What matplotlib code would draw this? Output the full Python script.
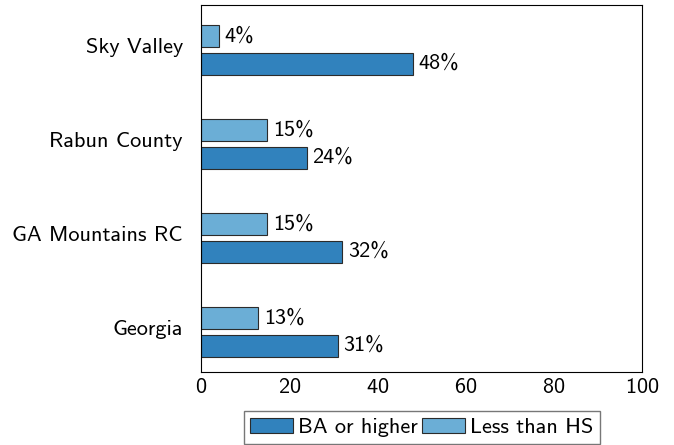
import matplotlib
matplotlib.use('Agg')
import matplotlib.pyplot as plt
import matplotlib.transforms as mtransforms
import numpy as np

plt.rcParams['font.family'] = ['cmss10', 'DejaVu Sans']
plt.rcParams['axes.formatter.use_mathtext'] = True
plt.rcParams['font.size'] = 16

places = ['Sky Valley', 'Rabun County', 'GA Mountains RC', 'Georgia']
ba_or_higher = [48, 24, 32, 31]
less_than_hs = [4, 15, 15, 13]

dark = '#3182bd'
light = '#6baed6'
edge = '#2b2b2b'

fig = plt.figure(figsize=(6.74, 4.45), dpi=100)
ax = fig.add_axes([0.2982, 0.164, 0.6543, 0.8248])

y = np.arange(len(places))
off = 0.144
h = 0.234
b1 = ax.barh(y + off, ba_or_higher, height=h, color=dark, edgecolor=edge, linewidth=0.8, label='BA or higher')
b2 = ax.barh(y - off, less_than_hs, height=h, color=light, edgecolor=edge, linewidth=0.8, label='Less than HS')
ax.bar_label(b1, labels=[f'{v}%' for v in ba_or_higher], padding=4)
ax.bar_label(b2, labels=[f'{v}%' for v in less_than_hs], padding=4)

ax.set_xlim(0, 100)
ax.set_ylim(3.426, -0.479)
ax.set_xticks([0, 20, 40, 60, 80, 100])
ax.set_yticks(y)
ax.set_yticklabels(places)
ax.tick_params(axis='y', length=0, pad=13)
ax.tick_params(axis='x', length=0, pad=4)
# nudge category labels up a little, like the original
shift = mtransforms.ScaledTranslation(0, 3 / 72, fig.dpi_scale_trans)
for lab in ax.get_yticklabels():
    lab.set_transform(lab.get_transform() + shift)
for s in ax.spines.values():
    s.set_linewidth(0.8)

fig.legend(handles=[b1, b2], loc='upper center', bbox_to_anchor=(0.626, 0.0764),
           ncol=2, frameon=True, fancybox=False, edgecolor='#555555',
           handlelength=1.9, handleheight=0.65, handletextpad=0.25, columnspacing=0.2,
           borderpad=0.3, borderaxespad=0)

fig.savefig('out.png', dpi=100)
